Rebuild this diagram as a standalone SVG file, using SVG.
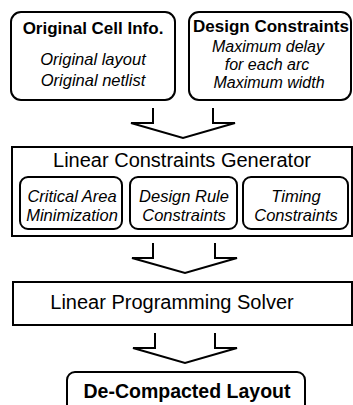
<svg xmlns="http://www.w3.org/2000/svg" width="353" height="405" viewBox="0 0 353 405">
<style>
.box{fill:#fff;stroke:#000;stroke-width:2}
.arrow{fill:none;stroke:#000;stroke-width:2;stroke-linejoin:miter}
text{font-family:"Liberation Sans",Arial,sans-serif;fill:#000;text-anchor:middle}
.b{font-weight:bold;font-size:17px}
.i{font-style:italic;font-size:16.5px}
.i2{font-style:italic;font-size:16px}
.r{font-size:20px}
.bb{font-weight:bold;font-size:19.5px}
</style>
<rect width="353" height="405" fill="#fff"/>
<g id="cell-info">
<rect class="box" x="11" y="12" width="164" height="88" rx="10"/>
<text class="b" x="93" y="34">Original Cell Info.</text>
<text class="i" x="93" y="65">Original layout</text>
<text class="i" x="93" y="86">Original netlist</text>
</g>
<g id="design-constraints">
<rect class="box" x="189" y="12" width="162" height="88" rx="10"/>
<text class="b" x="271" y="32">Design Constraints</text>
<text class="i2" x="268" y="52">Maximum delay</text>
<text class="i2" x="267" y="70">for each arc</text>
<text class="i2" x="269" y="88">Maximum width</text>
</g>
<g id="generator">
<rect class="box" x="12" y="147" width="340" height="89"/>
<text class="r" x="182" y="167">Linear Constraints Generator</text>
</g>
<g id="critical-area">
<rect class="box" x="20" y="177" width="102" height="52" rx="8"/>
<text class="i" x="72" y="202">Critical Area</text>
<text class="i" x="72" y="221">Minimization</text>
</g>
<g id="design-rule">
<rect class="box" x="130" y="177" width="107" height="52" rx="8"/>
<text class="i" x="184" y="202">Design Rule</text>
<text class="i" x="184" y="221">Constraints</text>
</g>
<g id="timing">
<rect class="box" x="243" y="177" width="105" height="52" rx="8"/>
<text class="i" x="296" y="202">Timing</text>
<text class="i" x="296" y="221">Constraints</text>
</g>
<g id="solver">
<rect class="box" x="13" y="282" width="339" height="43"/>
<text class="r" x="172" y="309">Linear Programming Solver</text>
</g>
<g id="decompacted">
<rect class="box" x="67" y="372" width="238" height="50" rx="8"/>
<text class="bb" x="187" y="398">De-Compacted Layout</text>
</g>
<g id="connectors">
<path class="arrow" d="M153,108 V123 H131 L183,138 L235,123 H213 V108"/>
<path class="arrow" d="M153,243 V258 H132 L185,273 L237,258 H215 V243"/>
<path class="arrow" d="M155,333 V348 H133 L185,363 L237,348 H215 V333"/>
</g>
</svg>
